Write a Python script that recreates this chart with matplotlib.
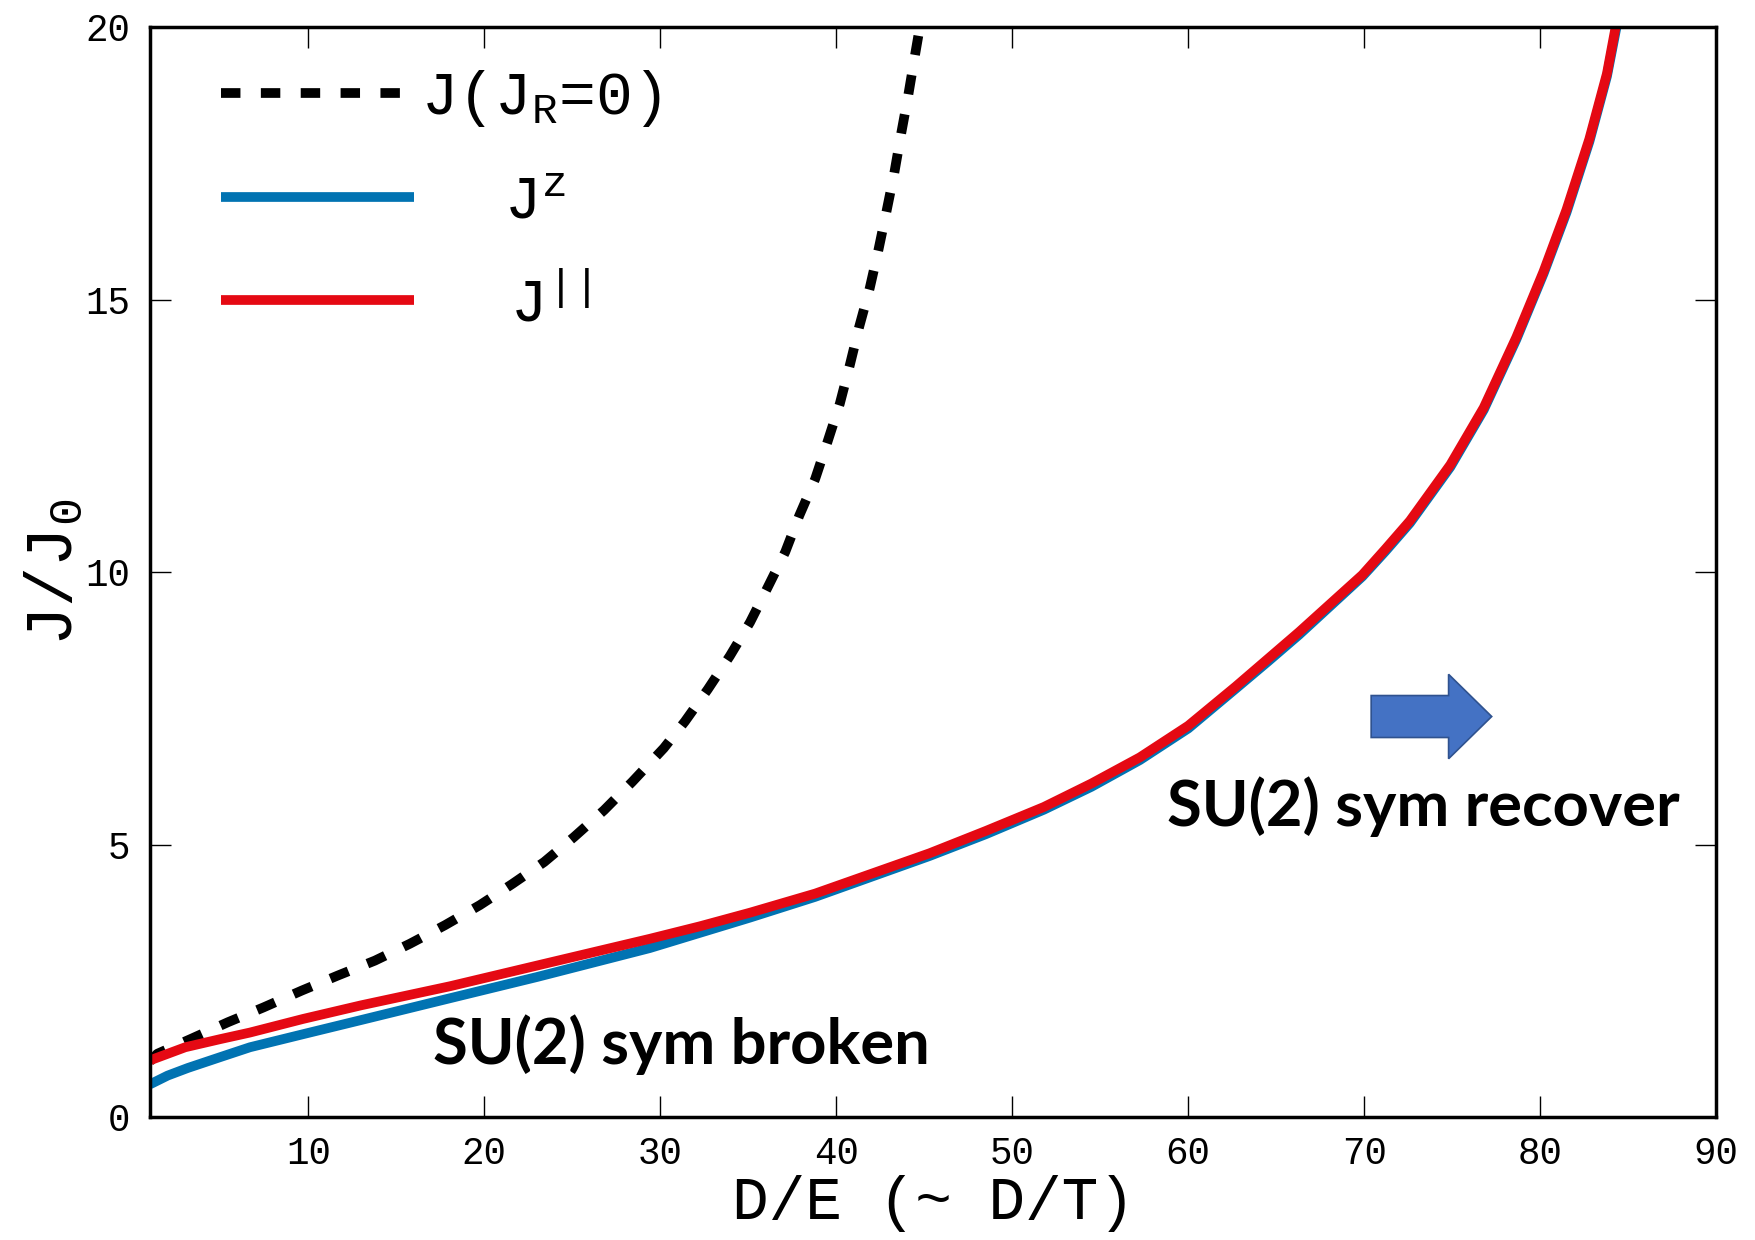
import matplotlib
matplotlib.use("Agg")
import matplotlib.pyplot as plt
from matplotlib.patches import FancyArrow

# J (J_R = 0), dashed black
x_jr0 = [1.0, 1.41, 3.37, 5.43, 7.44, 9.62, 11.7, 13.78, 15.77, 17.76, 19.75,
         21.6, 23.4, 25.1, 26.8, 28.4, 30.2, 31.4, 32.7, 33.95, 35.1, 36.1,
         37.1, 37.9, 38.8, 39.5, 40.2, 40.77, 41.3, 41.9, 42.4, 42.86, 43.3,
         43.7, 44.1, 44.47, 44.8]
y_jr0 = [1.02, 1.16, 1.44, 1.74, 2.01, 2.32, 2.6, 2.87, 3.18, 3.52, 3.89,
         4.28, 4.68, 5.14, 5.63, 6.15, 6.77, 7.26, 7.85, 8.46, 9.08, 9.72,
         10.37, 11.04, 11.71, 12.39, 13.09, 13.8, 14.5, 15.21, 15.92, 16.63, 17.33,
         18.07, 18.77, 19.48, 20.1]

# J^z, blue
x_jz = [1.0, 2.0, 3.15, 5.0, 6.68, 9.7, 13.0, 18.05, 23.0, 29.4, 35.1, 38.8,
        45.3, 48.5, 51.8, 54.5, 57.25, 60.0, 62.7, 64.5, 66.3, 69.9, 71.2,
        72.6, 74.9, 76.8, 78.65, 80.2, 81.5, 82.8, 83.8, 84.4]
y_jz = [0.6, 0.76, 0.9, 1.1, 1.28, 1.52, 1.78, 2.18, 2.57, 3.1, 3.66, 4.04,
        4.79, 5.19, 5.64, 6.06, 6.55, 7.13, 7.86, 8.35, 8.85, 9.92, 10.38,
        10.9, 11.93, 12.98, 14.27, 15.48, 16.6, 17.9, 19.1, 20.1]

# J^||, red
x_jpar = [1.0, 3.0, 5.0, 6.68, 9.7, 13.0, 18.05, 23.0, 29.4, 32.25, 35.1, 38.8,
          45.3, 48.5, 51.8, 54.5, 57.25, 60.0, 62.7, 64.5, 66.3, 69.9, 71.2,
          72.6, 74.9, 76.8, 78.65, 80.2, 81.5, 82.8, 83.8, 84.35]
y_jpar = [1.04, 1.28, 1.43, 1.55, 1.8, 2.05, 2.4, 2.78, 3.27, 3.5, 3.75, 4.1,
          4.84, 5.25, 5.69, 6.12, 6.6, 7.18, 7.9, 8.4, 8.9, 9.95, 10.42,
          10.94, 11.97, 13.02, 14.31, 15.52, 16.65, 17.95, 19.15, 20.1]

x_ticks = [10, 20, 30, 40, 50, 60, 70, 80, 90]
y_ticks = [0, 5, 10, 15, 20]

plt.rcParams['font.family'] = ['Liberation Mono', 'DejaVu Sans']
plt.rcParams['mathtext.fontset'] = 'custom'
plt.rcParams['mathtext.rm'] = 'Liberation Mono'
plt.rcParams['mathtext.it'] = 'Liberation Mono'
plt.rcParams['mathtext.bf'] = 'Liberation Mono:bold'

fig = plt.figure(figsize=(17.55, 12.40), dpi=100)
ax = fig.add_axes([0.0855, 0.0992, 0.8923, 0.8788])

ax.plot(x_jr0, y_jr0, color='black', lw=7, dashes=(2.0, 2.1),
        dash_capstyle='butt', label='J(J$_\\mathrm{R}$=0)')
ax.plot(x_jz, y_jz, color='#0173b2', lw=7, solid_capstyle='butt',
        label='  $\\;$J$^\\mathrm{z}$')
ax.plot(x_jpar, y_jpar, color='#e50913', lw=7, solid_capstyle='butt',
        label='  $\\;\\,$J$^{||}$')

ax.set_xlim(1, 90)
ax.set_ylim(0, 20)
ax.set_xticks(x_ticks)
ax.set_yticks(y_ticks)
ax.tick_params(direction='in', length=15, width=1, top=True, right=True,
               labelsize=27)
ax.tick_params(axis='x', pad=14)
ax.tick_params(axis='y', pad=14)
for sp in ax.spines.values():
    sp.set_linewidth(2.5)

ax.set_xlabel('D/E (~ D/T)', fontsize=44, labelpad=2)
ax.set_ylabel('J/J$_\\mathrm{0}$', fontsize=48, labelpad=0)

leg = ax.legend(loc='upper left', frameon=False, fontsize=44,
                handlelength=3.15, handletextpad=0.12, labelspacing=0.74,
                bbox_to_anchor=(0.03, 0.985), borderaxespad=0)

ax.text(17.1, 0.98, 'SU(2) sym broken', fontsize=45.5, fontweight='bold',
        family='Lato', va='baseline', ha='left')
ax.text(58.8, 5.34, 'SU(2) sym recover', fontsize=45.5, fontweight='bold',
        family='Lato', va='baseline', ha='left')

arrow = FancyArrow(70.4, 7.35, 6.85, 0, width=0.77, head_width=1.55,
                   head_length=2.45, length_includes_head=True,
                   facecolor='#4472c4', edgecolor='#2f528f', lw=1.2)
ax.add_patch(arrow)

fig.savefig('out.png', dpi=100)
